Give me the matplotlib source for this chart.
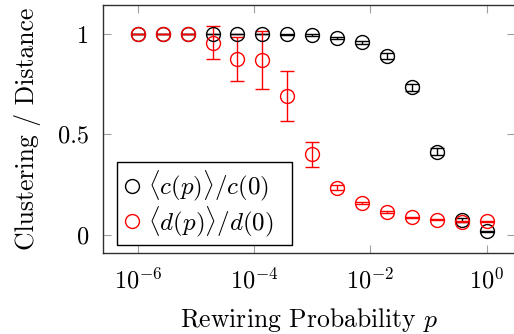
import numpy as np
import matplotlib
matplotlib.use("Agg")
import matplotlib.pyplot as plt
from matplotlib.lines import Line2D
from matplotlib.patches import Rectangle

plt.rcParams['mathtext.fontset'] = 'cm'
plt.rcParams['font.family'] = ['cmr10', 'DejaVu Serif']
plt.rcParams['axes.formatter.use_mathtext'] = True

p = np.logspace(-6, 0, 15)
c_mean = [1.0, 1.0, 1.0, 1.0, 1.0, 1.0, 0.999, 0.995, 0.98, 0.958, 0.892, 0.735, 0.415, 0.075, 0.017]
c_err = [0.002, 0.002, 0.002, 0.002, 0.002, 0.002, 0.002, 0.003, 0.004, 0.006, 0.015, 0.017, 0.015, 0.01, 0.003]
d_mean = [1.0, 1.0, 1.0, 0.957, 0.874, 0.871, 0.693, 0.401, 0.235, 0.158, 0.113, 0.088, 0.075, 0.066, 0.068]
d_err = [0.002, 0.002, 0.002, 0.083, 0.11, 0.145, 0.124, 0.062, 0.012, 0.006, 0.004, 0.003, 0.003, 0.003, 0.003]

fig = plt.figure(figsize=(5.14, 3.34), dpi=100)
ax = fig.add_axes([103/514, (334-253)/334, (515-103)/514, (253-5)/334])

kw = dict(fmt='o', markersize=10, markerfacecolor='none', capsize=4.8,
          elinewidth=1.0, capthick=1.0, markeredgewidth=1.0)
ax.errorbar(p, c_mean, yerr=c_err, color='black', **kw)
ax.errorbar(p, d_mean, yerr=d_err, color='red', **kw)

ax.set_xscale('log')
ax.set_xlim(10**-6.6, 10**0.49)
ax.set_ylim(-0.09, 1.144)
ax.set_xticks([1e-6, 1e-4, 1e-2, 1e0])
ax.set_xticklabels([r'$10^{-6}$', r'$10^{-4}$', r'$10^{-2}$', r'$10^{0}$'])
ax.xaxis.set_minor_locator(matplotlib.ticker.NullLocator())
ax.set_yticks([0, 0.5, 1])
ax.set_yticklabels(['0', '0.5', '1'])
ax.tick_params(direction='in', length=6, width=0.8, color='#a0a0a0',
               top=True, right=True, labelsize=17.5)
ax.tick_params(axis='x', pad=11)
ax.tick_params(axis='y', pad=10)
for s in ax.spines.values():
    s.set_color('#303030')
    s.set_linewidth(1.0)

ax.set_xlabel(r'Rewiring Probability $p$', fontsize=18.5, labelpad=9)
ax.set_ylabel('Clustering / Distance', fontsize=18.5, labelpad=12)

# legend frame (pgfplots style box)
box_x0, box_y0, box_w, box_h = 14/412, 8/248, 175/412, 83/248
ax.add_patch(Rectangle((box_x0, box_y0), box_w, box_h, transform=ax.transAxes,
                       facecolor='white', edgecolor='black', linewidth=1.0, zorder=4))

handles = [Line2D([], [], marker='o', ls='none', mfc='none', mec='black', markersize=10),
           Line2D([], [], marker='o', ls='none', mfc='none', mec='red', markersize=10)]
leg = ax.legend(handles, [r'$\langle c(p)\rangle/c(0)$', r'$\langle d(p)\rangle/d(0)$'],
                loc='center left', bbox_to_anchor=(box_x0, box_y0 + box_h/2), borderaxespad=0,
                fontsize=18, frameon=False, handletextpad=0.25, handlelength=0.8,
                borderpad=0.2, labelspacing=0.05)
leg.set_zorder(5)

fig.savefig('out.png', dpi=100)
